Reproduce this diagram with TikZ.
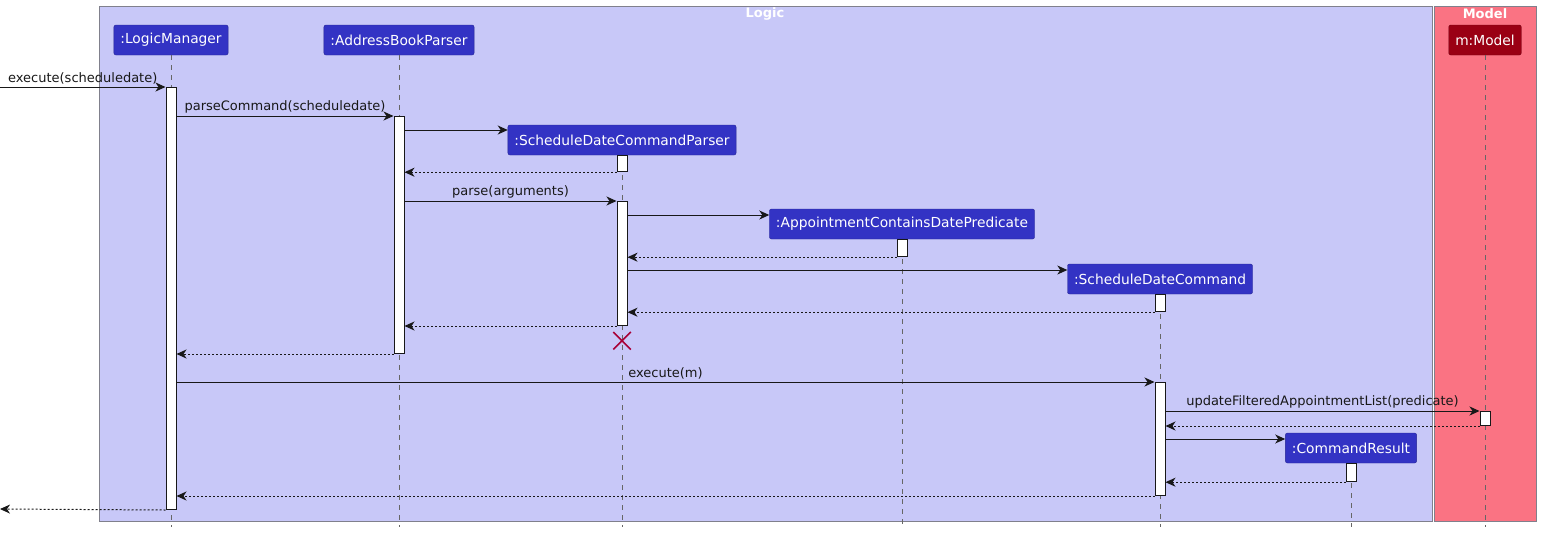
\documentclass[tikz,border=0pt]{standalone}
\usepackage{fontspec}
\setmainfont{DejaVu Sans}
\usepackage{tikz}
\usetikzlibrary{arrows.meta, positioning, calc, shapes.misc}
\definecolor{logicbg}{RGB}{200,200,248}
\definecolor{modelbg}{RGB}{250,115,131}
\definecolor{partblue}{RGB}{51,51,196}
\definecolor{partred}{RGB}{154,0,20}
\definecolor{framegray}{RGB}{128,128,140}
\definecolor{killred}{RGB}{168,0,54}
\definecolor{ink}{RGB}{24,24,24}
\tikzstyle{part} = [rectangle,
rounded corners=2pt,
minimum height=30pt,
inner xsep=6.5pt,
draw=partblue!75!black, fill=partblue,
text=white,
font=\fontsize{13.8}{16}\selectfont]
\tikzstyle{act} = [rectangle,
minimum width=10pt,
inner sep=0pt,
draw=ink, fill=white, line width=1pt]
\tikzstyle{life} = [draw=gray!80!black, line width=0.8pt, dash pattern=on 5pt off 5pt]
\tikzstyle{msg} = [draw=ink, line width=1pt, -{Stealth[length=10pt,width=9pt,inset=3pt]}]
\tikzstyle{ret} = [msg, dash pattern=on 2pt off 2pt]
\tikzstyle{lbl} = [above, inner sep=2pt, text=ink, font=\fontsize{13}{15}\selectfont]
\tikzstyle{frametitle} = [text=white, inner sep=0pt, font=\bfseries\fontsize{13}{15}\selectfont]

\begin{document}
\begin{tikzpicture}[x=1pt, y=-1pt]
                \useasboundingbox (0,0) rectangle (1541,533);
                % packages
                \draw [draw=framegray, fill=logicbg, line width=1pt] (99,6) rectangle (1432,521);
                \draw [draw=framegray, fill=modelbg, line width=1pt] (1434,6) rectangle (1536,521);
                \node (logicTitle) [frametitle] at (765,14) {Logic};
                \node (modelTitle) [frametitle] at (1485,14) {Model};

                % participants
                \node (lm) [part] at (171,40) {:LogicManager};
                \node (abp) [part] at (399,40) {:AddressBookParser};
                \node (sdcp) [part] at (622,140) {:ScheduleDateCommandParser};
                \node (acdp) [part] at (902,224) {:AppointmentContainsDatePredicate};
                \node (sdc) [part] at (1160,279) {:ScheduleDateCommand};
                \node (cr) [part] at (1351,448) {:CommandResult};
                \node (model) [part, draw=partred!75!black, fill=partred] at (1485,40) {m:Model};

                % lifelines
                \coordinate (bottom) at (0,527);
                \foreach \p in {lm, abp, sdcp, acdp, sdc, cr, model}
                    \draw [life] (\p.south) -- (\p.south |- bottom);

                % activations
                \node (lmAct) [act, anchor=north, minimum height=422pt] at (171,87) {};
                \node (abpAct) [act, anchor=north, minimum height=237pt] at (399,116) {};
                \node (sdcpAct1) [act, minimum height=16pt, below=0pt of sdcp] {};
                \node (sdcpAct2) [act, anchor=north, minimum height=124pt] at (sdcp.south |- 0,201) {};
                \node (acdpAct) [act, minimum height=17pt, below=0pt of acdp] {};
                \node (sdcAct1) [act, minimum height=17pt, below=0pt of sdc] {};
                \node (sdcAct2) [act, anchor=north, minimum height=113pt] at (sdc.south |- 0,382) {};
                \node (modelAct) [act, anchor=north, minimum height=14pt] at (model.south |- 0,411) {};
                \node (crAct) [act, minimum height=18pt, below=0pt of cr] {};
                \node (kill) [cross out, draw=killred, line width=1.5pt, minimum size=16pt, inner sep=0pt, below=6pt of sdcpAct2] {};

                % messages
                \coordinate (entry) at (0,87);
                \coordinate (exit) at (0,509);
                \path ([yshift=10pt]sdcp.west) coordinate (sdcpIn);
                \path ([yshift=9pt]acdp.west) coordinate (acdpIn);
                \path ([yshift=9pt]sdc.west) coordinate (sdcIn);
                \path ([yshift=9pt]cr.west) coordinate (crIn);

                \draw [msg] (entry) -- node[lbl] {execute(scheduledate)} (lmAct.north west);
                \draw [msg] (lmAct.east |- abpAct.north) -- node[lbl] {parseCommand(scheduledate)} (abpAct.north west);
                \draw [msg] (abpAct.east |- sdcpIn) -- (sdcpIn);
                \draw [ret] (sdcpAct1.south west) -- (abpAct.east |- sdcpAct1.south);
                \draw [msg] (abpAct.east |- sdcpAct2.north) -- node[lbl] {parse(arguments)} (sdcpAct2.north west);
                \draw [msg] (sdcpAct2.east |- acdpIn) -- (acdpIn);
                \draw [ret] (acdpAct.south west) -- (sdcpAct2.east |- acdpAct.south);
                \draw [msg] (sdcpAct2.east |- sdcIn) -- (sdcIn);
                \draw [ret] (sdcAct1.south west) -- (sdcpAct2.east |- sdcAct1.south);
                \draw [ret] (sdcpAct2.south west) -- (abpAct.east |- sdcpAct2.south);
                \draw [ret] (abpAct.south west) -- (lmAct.east |- abpAct.south);
                \draw [msg] (lmAct.east |- sdcAct2.north) -- node[lbl] {execute(m)} (sdcAct2.north west);
                \draw [msg] (sdcAct2.east |- modelAct.north) -- node[lbl] {updateFilteredAppointmentList(predicate)} (modelAct.north west);
                \draw [ret] (modelAct.south west) -- (sdcAct2.east |- modelAct.south);
                \draw [msg] (sdcAct2.east |- crIn) -- (crIn);
                \draw [ret] (crAct.south west) -- (sdcAct2.east |- crAct.south);
                \draw [ret] (sdcAct2.south west) -- (lmAct.east |- sdcAct2.south);
                \draw [ret] (lmAct.south west) -- (exit);
            \end{tikzpicture}
\end{document}
